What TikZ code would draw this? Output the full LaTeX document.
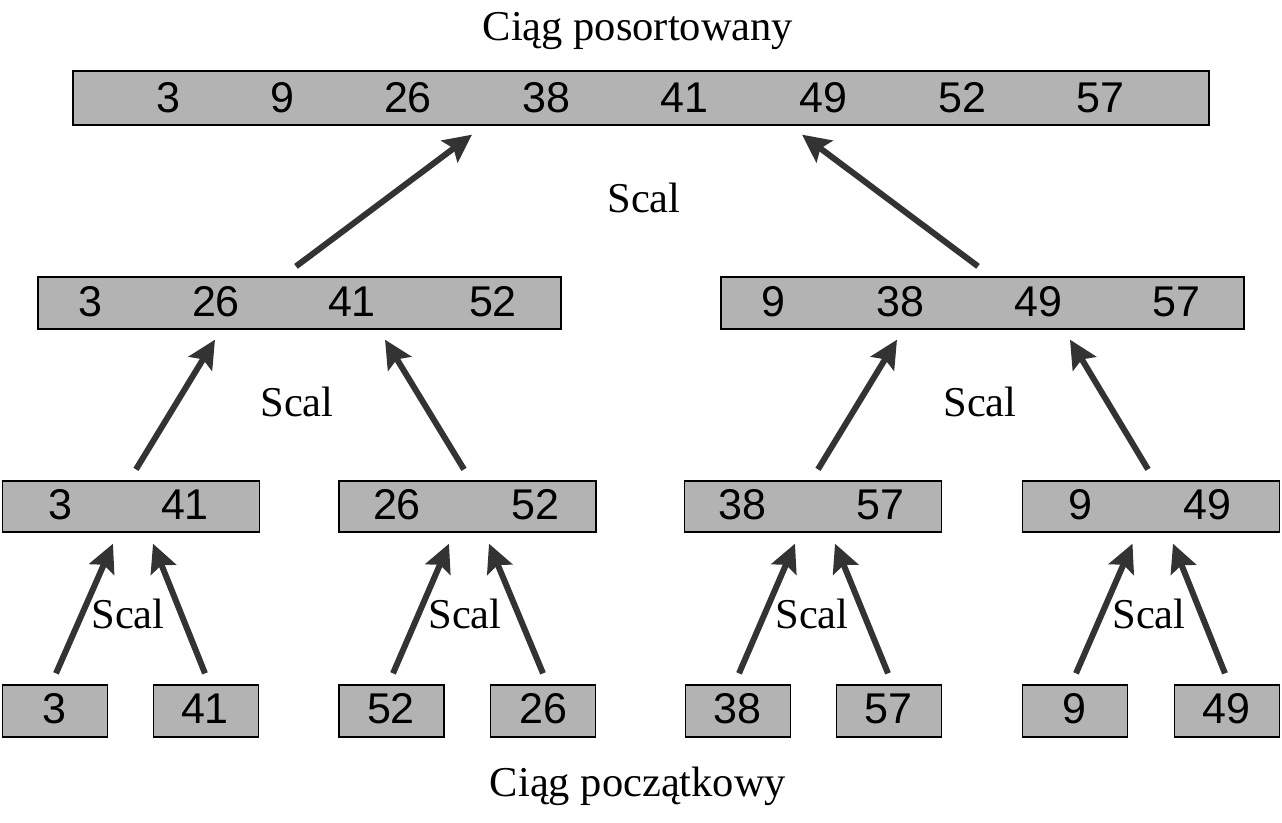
\documentclass[tikz,border=0pt]{standalone}
\usepackage{fontspec}
\setmainfont{Liberation Serif}
\newfontfamily\numfont{Liberation Sans}
\usetikzlibrary{arrows.meta}
\definecolor{boxgray}{HTML}{B3B3B3}
\definecolor{arrowgray}{HTML}{333333}
\tikzset{
  cell/.style={draw=black, line width=1.3pt, fill=boxgray, inner sep=0pt},
  num/.style={font=\numfont\fontsize{43}{43}\selectfont, inner sep=0pt, anchor=center},
  lbl/.style={font=\fontsize{42.5}{42.5}\selectfont, inner sep=0pt, anchor=center},
  arr/.style={draw=arrowgray, line width=6pt,
    -{Stealth[length=28pt, width=27pt, inset=5pt]}},
}
\begin{document}
\begin{tikzpicture}[x=1pt, y=-1pt]
\useasboundingbox (0,0) rectangle (1282,822);

% sorted sequence
\node[cell, minimum width=1136pt, minimum height=54pt] (top) at (641,98) {};
\foreach \v/\x [count=\i] in {3/168, 9/282, 26/408, 38/546, 41/684, 49/823, 52/962, 57/1100}
  \node[num] (t\i) at (\x,98) {\v};

% level of four-element runs
\node[cell, minimum width=523pt, minimum height=52pt] (ma) at (299.5,303) {};
\node[cell, minimum width=523pt, minimum height=52pt] (mb) at (982.5,303) {};
\foreach \v/\x [count=\i] in {3/90, 26/216, 41/352, 52/493, 9/773, 38/900, 49/1038, 57/1176}
  \node[num] (m\i) at (\x,302) {\v};

% level of pairs
\foreach \c [count=\i] in {131, 467.5, 813, 1151}
  \node[cell, minimum width=257pt, minimum height=51pt] (p\i) at (\c,506.5) {};
\foreach \v/\x [count=\i] in {3/60, 41/185, 26/397, 52/535, 38/742, 57/880, 9/1080, 49/1207}
  \node[num] (pn\i) at (\x,505) {\v};

% initial single elements
\foreach \c/\v [count=\i] in {55/3, 206/41, 391.5/52, 543/26, 738/38, 889/57, 1075/9, 1227/49}
  \node[cell, minimum width=105pt, minimum height=52pt] (s\i) at (\c,711) {};
\foreach \c/\v [count=\i] in {54/3, 205/41, 391/52, 543/26, 737/38, 888/57, 1074/9, 1226/49}
  \node[num] (sn\i) at (\c,709) {\v};

% labels
\node[lbl] (title) at (638,31) {Ciąg posortowany};
\node[lbl] (start) at (638,786) {Ciąg początkowy};
\node[lbl] (sc0) at (644,198) {Scal};
\node[lbl] (sc1) at (297,402) {Scal};
\node[lbl] (sc2) at (980,402) {Scal};
\node[lbl] (sc3) at (128,614) {Scal};
\node[lbl] (sc4) at (465,614) {Scal};
\node[lbl] (sc5) at (812,614) {Scal};
\node[lbl] (sc6) at (1149,614) {Scal};

% merges into the sorted sequence
\draw[arr] ([xshift=-3.5pt, yshift=10pt]ma.north) -- ([xshift=-169pt, yshift=-9pt]top.south);
\draw[arr] ([xshift=-4.5pt, yshift=10pt]mb.north) -- ([xshift=161pt, yshift=-9pt]top.south);

% merges of pairs
\draw[arr] ([xshift=5pt, yshift=11pt]p1.north) -- ([xshift=-84.5pt, yshift=-10pt]ma.south);
\draw[arr] ([xshift=-3.5pt, yshift=11pt]p2.north) -- ([xshift=85.5pt, yshift=-10pt]ma.south);
\draw[arr] ([xshift=5pt, yshift=11pt]p3.north) -- ([xshift=-85.5pt, yshift=-10pt]mb.south);
\draw[arr] ([xshift=-3pt, yshift=11pt]p4.north) -- ([xshift=87.5pt, yshift=-10pt]mb.south);

% merges of single elements
\draw[arr] ([xshift=1pt, yshift=11pt]s1.north) -- ([xshift=-18pt, yshift=-11pt]p1.south);
\draw[arr] ([xshift=-1pt, yshift=11pt]s2.north) -- ([xshift=22pt, yshift=-11pt]p1.south);
\draw[arr] ([xshift=1.5pt, yshift=11pt]s3.north) -- ([xshift=-18.5pt, yshift=-11pt]p2.south);
\draw[arr] ([yshift=11pt]s4.north) -- ([xshift=21.5pt, yshift=-11pt]p2.south);
\draw[arr] ([xshift=1pt, yshift=11pt]s5.north) -- ([xshift=-18pt, yshift=-11pt]p3.south);
\draw[arr] ([xshift=-1pt, yshift=11pt]s6.north) -- ([xshift=22pt, yshift=-11pt]p3.south);
\draw[arr] ([xshift=1pt, yshift=11pt]s7.north) -- ([xshift=-18.5pt, yshift=-11pt]p4.south);
\draw[arr] ([xshift=-2pt, yshift=11pt]s8.north) -- ([xshift=22pt, yshift=-11pt]p4.south);
\end{tikzpicture}
\end{document}
